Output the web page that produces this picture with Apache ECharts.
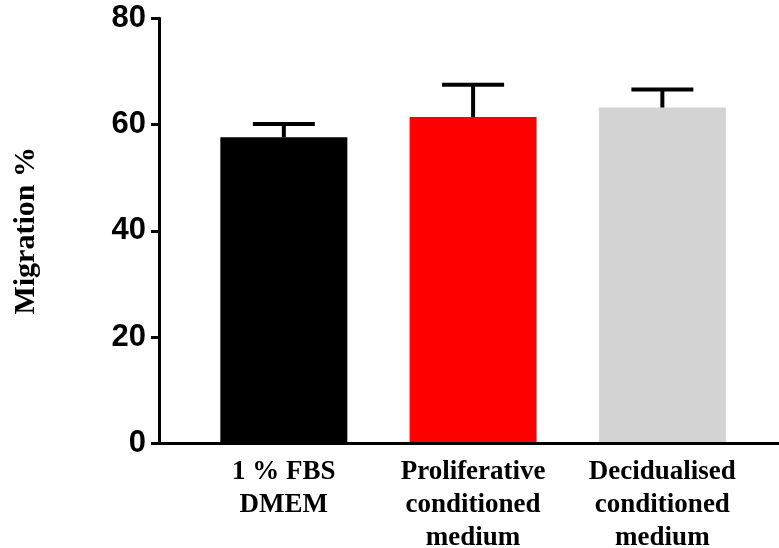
<!DOCTYPE html>
<html>
<head>
<meta charset="utf-8" />
<title>Migration</title>
<script src="https://cdn.jsdelivr.net/npm/echarts@6/dist/echarts.min.js"></script>
<style>
  body { margin: 0; background: #fff; }
</style>
</head>
<body>
<div id="main" style="width:779px;height:548px"></div>
<script>
var categories = ['1 % FBS\nDMEM', 'Proliferative\nconditioned\nmedium', 'Decidualised\nconditioned\nmedium'];
var means = [57.6, 61.4, 63.2];
var sem = [2.5, 6.1, 3.4];
var barColors = ['#000000', '#ff0000', '#d3d3d3'];
var yMin = 0, yMax = 80, yStep = 20;

var serif = 'Liberation Serif, Times New Roman, serif';
var sans = 'Liberation Sans, Arial, sans-serif';

var chart = echarts.init(document.getElementById('main'));

var barData = means.map(function (v, i) {
  return { value: v, itemStyle: { color: barColors[i] } };
});
var errData = means.map(function (v, i) {
  return [i, v, v + sem[i]];
});

var option = {
  animation: false,
  grid: [
    { left: 159, top: 18.3, width: 660, bottom: 104.7, outerBoundsMode: 'none', containLabel: false },
    { left: 189.2, top: 18.3, width: 567.8, bottom: 104.7, outerBoundsMode: 'none', containLabel: false }
  ],
  xAxis: [
    {
      gridIndex: 0, type: 'value', min: 0, max: 1, z: 10,
      axisLine: { show: true, lineStyle: { color: '#000', width: 3 } },
      axisTick: { show: false }, axisLabel: { show: false }, splitLine: { show: false }
    },
    {
      gridIndex: 1, type: 'category', data: categories,
      axisLine: { show: false }, axisTick: { show: false }, splitLine: { show: false },
      axisLabel: {
        interval: 0, hideOverlap: false,
        margin: 12, color: '#000', fontFamily: serif, fontWeight: 'bold',
        fontSize: 27, lineHeight: 33, align: 'center'
      }
    }
  ],
  yAxis: [
    {
      gridIndex: 0, type: 'value', min: yMin, max: yMax, interval: yStep, z: 10,
      name: 'Migration %', nameLocation: 'middle', nameGap: 118,
      nameTextStyle: { color: '#000', fontFamily: serif, fontWeight: 'bold', fontSize: 30 },
      axisLine: { show: true, lineStyle: { color: '#000', width: 3 } },
      axisTick: { show: true, length: 8, lineStyle: { color: '#000', width: 3 } },
      axisLabel: {
        margin: 13, color: '#000', fontFamily: sans, fontWeight: 'bold', fontSize: 31
      },
      splitLine: { show: false }
    },
    {
      gridIndex: 1, type: 'value', min: yMin, max: yMax, interval: yStep, show: false
    }
  ],
  series: [
    {
      type: 'bar', xAxisIndex: 1, yAxisIndex: 1,
      barWidth: 127, data: barData
    },
    {
      type: 'custom', xAxisIndex: 1, yAxisIndex: 1, z: 3,
      data: errData,
      renderItem: function (params, api) {
        var x = api.value(0);
        var base = api.coord([x, api.value(1)]);
        var top = api.coord([x, api.value(2)]);
        var half = 31;
        return {
          type: 'group',
          children: [
            { type: 'line', shape: { x1: top[0], y1: base[1], x2: top[0], y2: top[1] },
              style: { stroke: '#000', lineWidth: 4 } },
            { type: 'line', shape: { x1: top[0] - half, y1: top[1], x2: top[0] + half, y2: top[1] },
              style: { stroke: '#000', lineWidth: 4 } }
          ]
        };
      }
    }
  ]
};

chart.setOption(option);
</script>
</body>
</html>
